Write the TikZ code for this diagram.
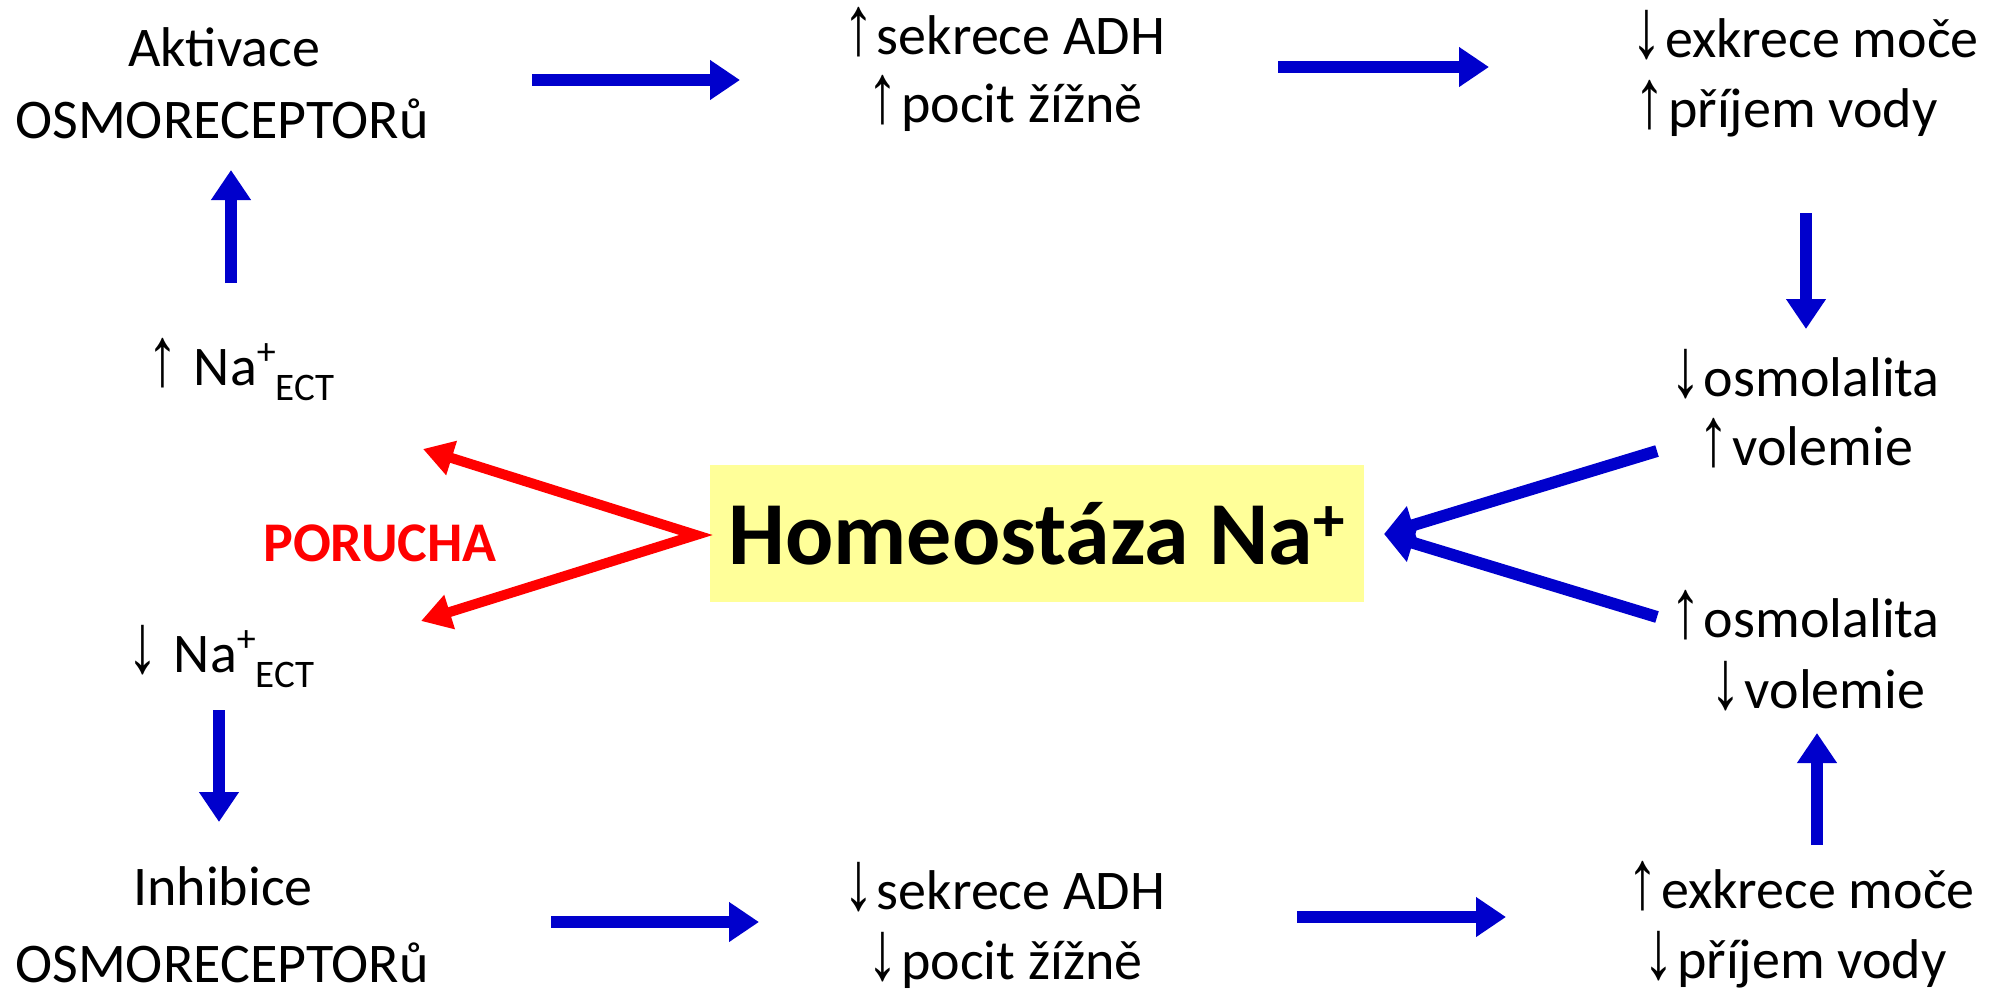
\documentclass[tikz,border=0pt]{standalone}
\usepackage{fontspec}
\setmainfont{Carlito}
\newfontfamily\arrfont{Liberation Sans}
\usetikzlibrary{arrows.meta}
\definecolor{arrblue}{RGB}{0,0,204}
\definecolor{arrred}{RGB}{255,0,0}
\definecolor{boxyellow}{RGB}{255,255,153}
\newcommand{\uparr}{\scalebox{1.1}[1.5]{\arrfont ↑}\kern1.5pt}
\newcommand{\dnarr}{\scalebox{1.1}[1.5]{\arrfont ↓}\kern1.5pt}
\newcommand{\naect}{Na\raisebox{0.36em}{\fontsize{19}{19}\selectfont +}\raisebox{-0.28em}{\fontsize{19.5}{19.5}\selectfont ECT}}
\begin{document}
\begin{tikzpicture}[x=0.5pt,y=-0.5pt,
  txt/.style={anchor=base, inner sep=0pt, font=\fontsize{28}{34}\selectfont},
  barrow/.style={draw=arrblue, line width=6pt, -{Triangle[length=15pt,width=19pt]}},
  rarrow/.style={draw=arrred, line width=5pt, line join=miter, {Triangle[length=15pt,width=17pt]}-{Triangle[length=15pt,width=17pt]}},
  hbox/.style={fill=boxyellow, inner sep=0pt, minimum width=327pt, minimum height=68.5pt,
    font=\fontsize{45}{52}\selectfont\bfseries}
]
\useasboundingbox (0,0) rectangle (1999,992);

% text nodes
\node[txt] (akt1) at (224,66) {Aktivace};
\node[txt] (akt2) at (222,138) {OSMORECEPTORů};
\node[txt] (sekU1) at (1004,54) {\uparr sekrece ADH};
\node[txt] (sekU2) at (1005,122) {\uparr pocit žížně};
\node[txt] (exkD1) at (1805,57) {\dnarr exkrece moče};
\node[txt] (exkD2) at (1786,127) {\uparr příjem vody};
\node[txt] (osmD1) at (1805,396) {\dnarr osmolalita};
\node[txt] (osmD2) at (1806,465) {\uparr volemie};
\node[txt] (osmU1) at (1805,637) {\uparr osmolalita};
\node[txt] (osmU2) at (1818,708) {\dnarr volemie};
\node[txt] (exkU1) at (1801,908) {\uparr exkrece moče};
\node[txt] (exkU2) at (1795,978) {\dnarr příjem vody};
\node[txt] (sekD1) at (1004,909) {\dnarr sekrece ADH};
\node[txt] (sekD2) at (1005,979) {\dnarr pocit žížně};
\node[txt] (inh1) at (223,905) {Inhibice};
\node[txt] (inh2) at (222,982) {OSMORECEPTORů};
\node[txt, anchor=base west] (naU) at (147,385) {\uparr\ \naect};
\node[txt, anchor=base west] (naD) at (127,672) {\dnarr\ \naect};
\node[txt, text=arrred, font=\fontsize{28}{34}\selectfont\bfseries] (por) at (380,561) {PORUCHA};
\node[hbox] (homeo) at (1037,533.5) {Homeostáza Na\raisebox{0.05em}{\textsuperscript{+}}};

% connector end points
\coordinate (t1a) at (532,80);   \coordinate (t1b) at (740,80);
\coordinate (t2a) at (1278,67);  \coordinate (t2b) at (1489,67);
\coordinate (r1a) at (1806,213); \coordinate (r1b) at (1806,329);
\coordinate (b1a) at (551,922);  \coordinate (b1b) at (759,922);
\coordinate (b2a) at (1297,917); \coordinate (b2b) at (1506,917);
\coordinate (r2a) at (1817,845); \coordinate (r2b) at (1817,733);
\coordinate (l1a) at (231,283);  \coordinate (l1b) at (231,170);
\coordinate (l2a) at (219,710);  \coordinate (l2b) at (219,822);
\coordinate (cu) at (1657,451);  \coordinate (cd) at (1657,617);
\coordinate (ctip) at (1384,534);
\coordinate (rv) at (696,535);
\coordinate (rtu) at (423,449);  \coordinate (rtd) at (421,621);

% blue arrows
\draw[barrow] (t1a) -- (t1b);
\draw[barrow] (t2a) -- (t2b);
\draw[barrow] (r1a) -- (r1b);
\draw[barrow] (b1a) -- (b1b);
\draw[barrow] (b2a) -- (b2b);
\draw[barrow] (r2a) -- (r2b);
\draw[barrow] (l1a) -- (l1b);
\draw[barrow] (l2a) -- (l2b);
\draw[barrow] (cu) -- (ctip);
\draw[barrow] (cd) -- (ctip);

% red arrows
\draw[rarrow] (rtu) -- (rv) -- (rtd);
\end{tikzpicture}
\end{document}
